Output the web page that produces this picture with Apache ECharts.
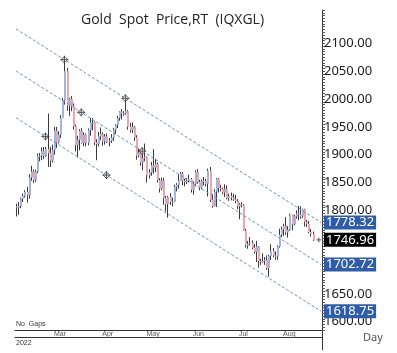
<!DOCTYPE html>
<html>
<head>
<meta charset="utf-8">
<title>Gold Spot Price,RT (IQXGL)</title>
<script src="https://cdn.jsdelivr.net/npm/echarts@6/dist/echarts.min.js"></script>
<style>
  html, body { margin: 0; padding: 0; background: #fff; }
  #chart { width: 397px; height: 353px; }
</style>
</head>
<body>
<div id="chart"></div>
<script>
// daily bars, weekdays 3 Feb - 19 Aug 2022, one line per month
const opens = [
  1807,1805,1808,1821,1826,1833,1827,1859,1870,1854,1870,1898,1898,1906,1898,1910,1903,1889,
  1908,1943,1922,1936,1966,1998,2050,1988,2000,1988,1951,1917,1927,1943,1921,1936,1921,1944,1958,1958,1922,1919,1933,
  1937,1924,1933,1923,1925,1931,1945,1954,1966,1977,1974,1975,1978,1950,1944,1950,1931,1898,1904,1886,1894,
  1896,1863,1868,1881,1877,1883,1854,1839,1853,1822,1811,1824,1815,1816,1842,1846,1853,1866,1853,1851,1853,1856,
  1837,1848,1869,1851,1841,1852,1853,1848,1871,1819,1808,1834,1857,1840,1839,1832,1838,1822,1826,1823,1820,1817,
  1807,1811,1809,1764,1737,1740,1742,1733,1725,1735,1709,1708,1709,1711,1696,1718,1727,1719,1717,1735,1756,
  1766,1772,1760,1765,1791,1775,1789,1794,1792,1789,1802,1779,1776,1761,1758
]
const closes = [
  1805,1808,1821,1826,1833,1827,1859,1870,1854,1870,1898,1898,1906,1898,1910,1903,1889,1908,
  1943,1922,1936,1966,1998,2050,1988,2000,1988,1951,1917,1927,1943,1921,1936,1921,1944,1958,1958,1922,1919,1933,1937,
  1924,1933,1923,1925,1931,1945,1954,1966,1977,1974,1975,1978,1950,1944,1950,1931,1898,1904,1886,1894,1896,
  1863,1868,1881,1877,1883,1854,1839,1853,1822,1811,1824,1815,1816,1842,1846,1853,1866,1853,1851,1853,1856,1837,
  1848,1869,1851,1841,1852,1853,1848,1871,1819,1808,1834,1857,1840,1839,1832,1838,1822,1826,1823,1820,1817,1807,
  1811,1809,1764,1737,1740,1742,1733,1725,1735,1709,1708,1709,1711,1696,1718,1727,1719,1717,1735,1756,1766,
  1772,1760,1765,1791,1775,1789,1794,1792,1789,1802,1779,1776,1761,1758,1746.96
]
const lows = [
  1789,1792,1804,1815,1823,1814,1821,1853,1849,1851,1867,1888,1890,1892,1896,1878,1878,1886,
  1900,1912,1920,1930,1966,1990,1979,1970,1978,1945,1906,1895,1908,1920,1915,1915,1917,1934,1944,1917,1890,1915,1926,
  1916,1918,1921,1915,1921,1925,1937,1948,1961,1963,1970,1972,1945,1940,1939,1925,1891,1895,1880,1872,1888,
  1850,1857,1862,1866,1869,1850,1832,1836,1810,1798,1787,1810,1807,1815,1834,1839,1853,1845,1843,1847,1850,1832,
  1828,1843,1848,1836,1838,1845,1843,1825,1815,1805,1807,1806,1832,1834,1829,1824,1820,1817,1818,1817,1813,1802,
  1784,1805,1763,1733,1731,1737,1730,1722,1707,1697,1702,1706,1702,1693,1681,1711,1716,1711,1711,1733,1752,
  1754,1756,1751,1763,1764,1773,1785,1782,1785,1786,1771,1770,1759,1753,1745
]
const highs = [
  1812,1815,1823,1830,1836,1842,1865,1880,1873,1873,1902,1903,1913,1914,1914,1974,1914,1918,
  1950,1950,1942,1971,2002,2070,2056,2002,2005,1992,1954,1934,1946,1948,1940,1938,1947,1966,1966,1960,1928,1941,1949,
  1940,1937,1938,1930,1937,1948,1955,1970,1978,1982,1978,1998,1980,1957,1958,1952,1935,1911,1906,1900,1920,
  1897,1874,1887,1910,1893,1886,1858,1859,1858,1826,1826,1831,1823,1846,1849,1865,1869,1869,1857,1858,1864,1858,
  1852,1872,1874,1855,1855,1860,1857,1875,1878,1829,1838,1858,1858,1846,1841,1847,1845,1830,1832,1830,1828,1820,
  1813,1815,1811,1767,1745,1752,1746,1739,1745,1736,1713,1723,1716,1719,1720,1739,1732,1726,1737,1767,1771,
  1776,1788,1772,1794,1792,1792,1800,1808,1807,1803,1803,1783,1781,1767,1762
]

// axis runs a few empty days past the last bar
const firstDay = '2022-02-03'
const lastDay = '2022-08-25'
const monthNames = ['Jan', 'Feb', 'Mar', 'Apr', 'May', 'Jun', 'Jul', 'Aug', 'Sep', 'Oct', 'Nov', 'Dec']

// trend channel: value at first and last category
const channelUpper = [2126, 1778.32]
const channelMid = [2050.4, 1702.72]
const channelLow = [1966.4, 1618.75]
// anchor points of the channel lines [category index, price]
const anchors = [[23, 2070.8], [52, 2001.3], [31, 1976.1], [60, 1906.5], [14, 1932.8], [43, 1863.3]]

const lastPrice = 1746.96
const priceMin = 1585
const priceMax = 2160
const lastLabel = 2100

const blueTag = '#2f5ca9'
const upColor = '#9fb4de'
const downColor = '#eaa6ad'

function weekdays(from, to) {
  const out = []
  const d = new Date(from + 'T00:00:00Z')
  const end = new Date(to + 'T00:00:00Z')
  while (d <= end) {
    const wd = d.getUTCDay()
    if (wd !== 0 && wd !== 6) out.push(d.toISOString().slice(0, 10))
    d.setUTCDate(d.getUTCDate() + 1)
  }
  return out
}

const days = weekdays(firstDay, lastDay)
const lastIdx = days.length - 1
const isMonthStart = i => i > 0 && days[i].slice(5, 7) !== days[i - 1].slice(5, 7)

if (opens.length !== closes.length || opens.length !== lows.length || opens.length !== highs.length) {
  throw new Error('bad lengths ' + [opens.length, closes.length, lows.length, highs.length])
}

const bars = opens.map((o, i) => [i, o, closes[i], lows[i], highs[i]])

function renderBar(params, api) {
  const i = api.value(0)
  const o = api.coord([i, api.value(1)])
  const c = api.coord([i, api.value(2)])
  const l = api.coord([i, api.value(3)])
  const h = api.coord([i, api.value(4)])
  const cx = Math.round(o[0]) + 0.5
  const top = Math.min(o[1], c[1])
  const hgt = Math.max(1, Math.abs(o[1] - c[1]))
  return {
    type: 'group',
    children: [
      { type: 'line', shape: { x1: cx, y1: h[1], x2: cx, y2: l[1] }, style: { stroke: '#3a3a3a', lineWidth: 1 } },
      { type: 'rect', shape: { x: cx - 0.5, y: top, width: 2, height: hgt },
        style: { fill: api.value(2) >= api.value(1) ? upColor : downColor } }
    ]
  }
}

function channel(ends) {
  return {
    type: 'line',
    silent: true,
    symbol: 'none',
    z: 3,
    lineStyle: { color: '#6f8cc4', width: 1, type: [3, 2] },
    data: [[0, ends[0]], [lastIdx, ends[1]]]
  }
}

function tag(value, bg) {
  return { yAxis: value, label: { backgroundColor: bg } }
}

const chart = echarts.init(document.getElementById('chart'))
chart.setOption({
  animation: false,
  title: {
    text: 'Gold  Spot  Price,RT  (IQXGL)',
    left: 76,
    top: 8,
    textStyle: { fontFamily: 'Open Sans', fontSize: 14, fontWeight: 'normal', color: '#222' }
  },
  grid: { left: 15, right: 75, top: 10, bottom: 23 },
  xAxis: [
    {
      type: 'category',
      data: days,
      position: 'bottom',
      axisLine: { lineStyle: { color: '#333', width: 1 } },
      axisTick: { interval: i => isMonthStart(i), length: 8, lineStyle: { color: '#444' } },
      axisLabel: {
        interval: i => isMonthStart(i),
        formatter: v => monthNames[+v.slice(5, 7) - 1],
        align: 'left',
        margin: 1,
        fontFamily: 'Liberation Sans',
        fontSize: 7,
        color: '#555'
      },
      splitLine: { show: false }
    },
    {
      type: 'category',
      data: days,
      position: 'bottom',
      offset: 7,
      axisLine: { lineStyle: { color: '#333', width: 1 } },
      axisTick: { show: false },
      axisLabel: { show: false }
    }
  ],
  yAxis: {
    type: 'value',
    position: 'right',
    min: priceMin,
    max: priceMax,
    interval: 5,
    axisLine: { show: true, lineStyle: { color: '#333' } },
    axisTick: { show: true, length: 3, lineStyle: { color: '#555' } },
    axisLabel: {
      margin: 2,
      formatter: v => (v % 50 === 0 && v <= lastLabel ? v.toFixed(2) : ''),
      fontFamily: 'Noto Sans',
      fontSize: 13,
      color: '#1a1a1a'
    },
    splitLine: { show: false }
  },
  graphic: [
    { type: 'text', left: 16, top: 321, style: { text: 'No  Gaps', font: '7px "Liberation Sans"', fill: '#333' } },
    { type: 'text', left: 16, top: 340, style: { text: '2022', font: '7px "Liberation Sans"', fill: '#333' } },
    { type: 'text', left: 363, top: 332, style: { text: 'Day', font: '11px "Noto Sans"', fill: '#555' } },
    { type: 'line', shape: { x1: 322.5, y1: 330, x2: 322.5, y2: 350 }, style: { stroke: '#333', lineWidth: 1 } }
  ],
  series: [
    channel(channelUpper),
    channel(channelMid),
    channel(channelLow),
    {
      type: 'custom',
      renderItem: renderBar,
      encode: { x: 0, y: [1, 2, 3, 4] },
      data: bars,
      z: 2
    },
    {
      type: 'scatter',
      silent: true,
      symbol: 'path://M6,1 L11,6 L6,11 L1,6 Z M6,0 L6,12 M0,6 L12,6',
      symbolSize: 8,
      itemStyle: { color: 'rgba(255,255,255,0.6)', borderColor: '#333', borderWidth: 1 },
      z: 4,
      data: anchors
    },
    {
      type: 'scatter',
      silent: true,
      symbol: 'path://M5,0 L5,10 M0,5 L10,5',
      symbolSize: 5,
      itemStyle: { color: 'none', borderColor: '#333', borderWidth: 1 },
      z: 5,
      data: [[lastIdx - 1, lastPrice]],
      markLine: {
        silent: true,
        symbol: 'none',
        lineStyle: { color: 'transparent', width: 0 },
        label: {
          show: true,
          position: 'end',
          distance: 2,
          formatter: p => p.value.toFixed(2),
          fontFamily: 'Noto Sans',
          fontSize: 13,
          color: '#fff',
          opacity: 1,
          padding: [1, 2, 0, 2]
        },
        data: [
          tag(1778.32, blueTag),
          tag(lastPrice, '#000'),
          tag(1702.72, blueTag),
          tag(1618.75, blueTag)
        ]
      }
    }
  ]
})
</script>
</body>
</html>
